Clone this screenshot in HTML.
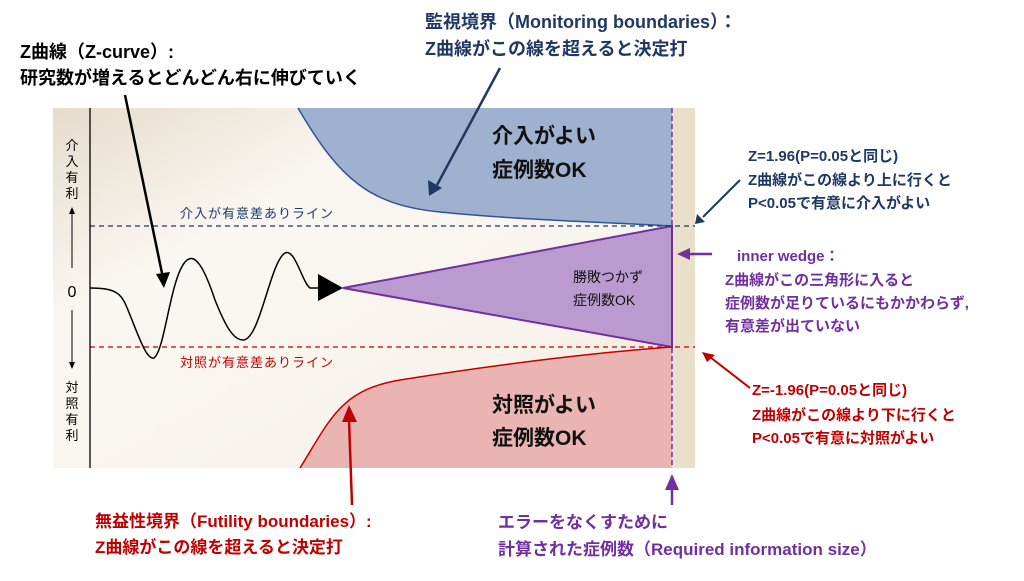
<!DOCTYPE html>
<html><head><meta charset="utf-8"><style>
body{margin:0;width:1024px;height:576px;background:#fff;overflow:hidden;font-family:"Liberation Sans","Noto Sans CJK JP",sans-serif}
</style></head><body>
<svg width="1024" height="576" viewBox="0 0 1024 576" font-family="Liberation Sans, Noto Sans CJK JP, sans-serif">
<defs>
<linearGradient id="bg" x1="0" y1="0" x2="1" y2="1">
<stop offset="0" stop-color="#e6dccb"/><stop offset="0.3" stop-color="#faf7f2"/><stop offset="0.7" stop-color="#f8f3ec"/><stop offset="1" stop-color="#e9dccb"/></linearGradient>
</defs>
<rect x="53" y="108" width="642" height="360" fill="url(#bg)"/>
<rect x="672" y="108" width="23" height="360" fill="#eadfca"/>
<path d="M298,108 C340,180 370,205 440,212 C520,220 600,222 672,226 L672,108z" fill="#9fb1cf"/>
<path d="M298,108 C340,180 370,205 440,212 C520,220 600,222 672,226" fill="none" stroke="#2f5597" stroke-width="1.5"/>
<path d="M300,468 C330,420 340,390 400,380 C500,364 600,352 672,347 L672,468z" fill="#eab4b2"/>
<path d="M300,468 C330,420 340,390 400,380 C500,364 600,352 672,347" fill="none" stroke="#c00000" stroke-width="1.5"/>
<path d="M343,288 L672,226 L672,347z" fill="#bb9bcf" stroke="#7030a0" stroke-width="2"/>
<line x1="90" y1="226" x2="695" y2="226" stroke="#1f3864" stroke-width="1.2" stroke-dasharray="5,4"/>
<line x1="90" y1="347" x2="695" y2="347" stroke="#c00000" stroke-width="1.2" stroke-dasharray="5,4"/>
<line x1="672" y1="108" x2="672" y2="468" stroke="#7030a0" stroke-width="1.5" stroke-dasharray="5,3"/>
<line x1="90" y1="108" x2="90" y2="468" stroke="#000" stroke-width="1.3"/>
<path d="M90,288 C120,288 122,295 130,315 C140,340 147,360 154,358 C165,350 170,280 185,262 C195,250 205,270 215,300 C225,325 233,340 243,340 C260,340 270,262 285,253 C295,248 302,282 310,288 L320,288" fill="none" stroke="#000" stroke-width="1.5"/>
<path d="M318,274 L343,288 L318,301z" fill="#000"/>
<text x="72" y="297" font-size="16" text-anchor="middle">0</text>
<g font-size="13" text-anchor="middle">
<text x="72" y="150">介</text><text x="72" y="166">入</text><text x="72" y="182">有</text><text x="72" y="198">利</text>
<text x="72" y="392">対</text><text x="72" y="408">照</text><text x="72" y="424">有</text><text x="72" y="440">利</text>
</g>
<line x1="72" y1="208" x2="72" y2="268" stroke="#000"/><path d="M69,214L72,207L75,214z"/>
<line x1="72" y1="310" x2="72" y2="368" stroke="#000"/><path d="M69,362L72,369L75,362z"/>
<text x="180" y="218" font-size="13" fill="#1f3864" letter-spacing="1">介入が有意差ありライン</text>
<text x="180" y="367" font-size="13" fill="#c00000" letter-spacing="1">対照が有意差ありライン</text>
<g font-weight="bold" font-size="21" fill="#111">
<text x="492" y="143">介入がよい</text><text x="492" y="177">症例数OK</text>
<text x="492" y="412">対照がよい</text><text x="492" y="445">症例数OK</text>
</g>
<g font-size="14" fill="#111"><text x="573" y="282">勝敗つかず</text><text x="573" y="305">症例数OK</text></g>
<g font-weight="bold">
<text x="20" y="58" font-size="18">Z曲線（Z-curve）:</text>
<text x="20" y="84" font-size="18">研究数が増えるとどんどん右に伸びていく</text>
<text x="425" y="28" font-size="18" fill="#1f3864">監視境界（Monitoring boundaries）：</text>
<text x="425" y="55" font-size="18" fill="#1f3864">Z曲線がこの線を超えると決定打</text>
<g font-size="15" fill="#1f3864"><text x="748" y="161">Z=1.96(P=0.05と同じ)</text><text x="748" y="185">Z曲線がこの線より上に行くと</text><text x="748" y="208">P&lt;0.05で有意に介入がよい</text></g>
<g font-size="15" fill="#7030a0"><text x="737" y="261">inner wedge：</text><text x="725" y="285">Z曲線がこの三角形に入ると</text><text x="725" y="308">症例数が足りているにもかかわらず,</text><text x="725" y="331">有意差が出ていない</text></g>
<g font-size="15" fill="#c00000"><text x="752" y="395">Z=-1.96(P=0.05と同じ)</text><text x="752" y="420">Z曲線がこの線より下に行くと</text><text x="752" y="443">P&lt;0.05で有意に対照がよい</text></g>
<text x="95" y="527" font-size="17" fill="#c00000">無益性境界（Futility boundaries）:</text>
<text x="95" y="553" font-size="17" fill="#c00000">Z曲線がこの線を超えると決定打</text>
<text x="498" y="528" font-size="17" fill="#7030a0">エラーをなくすために</text>
<text x="498" y="555" font-size="17" fill="#7030a0">計算された症例数（Required information size）</text>
</g>
<g stroke-width="2.5">
<line x1="125" y1="95" x2="163" y2="278" stroke="#000"/><path d="M156,274L164,288L170,272z" fill="#000"/>
<line x1="500" y1="68" x2="437" y2="185" stroke="#1f3864"/><path d="M428,180L429,196L442,188z" fill="#1f3864"/>
<line x1="740" y1="180" x2="703" y2="217" stroke="#1f3864" stroke-width="2"/><path d="M697,214L695,224L705,222z" fill="#1f3864"/>
<line x1="712" y1="254" x2="688" y2="254" stroke="#7030a0"/><path d="M690,248L677,254L690,260z" fill="#7030a0"/>
<line x1="750" y1="388" x2="710" y2="357" stroke="#c00000" stroke-width="2"/><path d="M702,352L715,355L707,362z" fill="#c00000"/>
<line x1="352" y1="505" x2="349" y2="420" stroke="#c00000"/><path d="M342,422L349,405L357,422z" fill="#c00000"/>
<line x1="672" y1="505" x2="672" y2="486" stroke="#7030a0"/><path d="M665,490L672,474L679,490z" fill="#7030a0"/>
</g>
</svg>
</body></html>
